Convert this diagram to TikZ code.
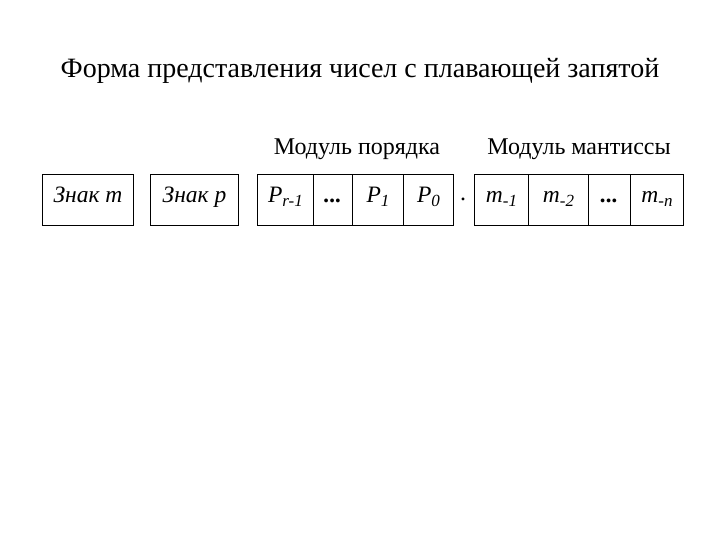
\documentclass[tikz,border=0pt]{standalone}
\usepackage{fontspec}
\setmainfont{Liberation Serif}
\usetikzlibrary{calc}
\newcommand{\lowsub}[1]{\raisebox{-0.35ex}{\fontsize{17}{20}\selectfont #1}}
\begin{document}
\begin{tikzpicture}[x=1pt,y=-1pt,
  cell/.style={draw,line width=1pt,minimum height=51pt,inner sep=0pt,anchor=north west},
  txt/.style={anchor=base,inner sep=0pt,font=\fontsize{23.5}{27}\selectfont\itshape},
  lbl/.style={anchor=base,inner sep=0pt,font=\fontsize{24}{28}\selectfont}]
\useasboundingbox (0,0) rectangle (720,540);
\node[anchor=base,inner sep=0pt] (title) at (360,78) {\fontsize{28}{32}\selectfont Форма представления чисел с плавающей запятой};
\node[lbl] (mp) at (357,155) {Модуль порядка};
\node[lbl] (mm) at (579,155) {Модуль мантиссы};
\node[cell,minimum width=91pt] (zm) at (42,174) {};
\node[cell,minimum width=88pt] (zp) at (150,174) {};
\node[cell,minimum width=56pt] (p1) at (257,174) {};
\node[cell,minimum width=39pt] (p2) at (313,174) {};
\node[cell,minimum width=51pt] (p3) at (352,174) {};
\node[cell,minimum width=50pt] (p4) at (403,174) {};
\node[cell,minimum width=54pt] (m1) at (474,174) {};
\node[cell,minimum width=60pt] (m2) at (528,174) {};
\node[cell,minimum width=42pt] (m3) at (588,174) {};
\node[cell,minimum width=53pt] (m4) at (630,174) {};
\node[txt] (tzm) at ($(zm.north)+(0,29)$) {Знак m};
\node[txt] (tzp) at ($(zp.north)+(0,29)$) {Знак p};
\node[txt] (tp1) at ($(p1.north)+(0,29)$) {P\lowsub{r-1}};
\node[txt] (tp2) at ($(p2.north)+(0,29)$) {\textbf{...}};
\node[txt] (tp3) at ($(p3.north)+(0,29)$) {P\lowsub{1}};
\node[txt] (tp4) at ($(p4.north)+(0,29)$) {P\lowsub{0}};
\node[lbl] (dot) at (463,201) {.};
\node[txt] (tm1) at ($(m1.north)+(0,29)$) {m\lowsub{-1}};
\node[txt] (tm2) at ($(m2.north)+(0,29)$) {m\lowsub{-2}};
\node[txt] (tm3) at ($(m3.north)+(0,29)$) {\textbf{...}};
\node[txt] (tm4) at ($(m4.north)+(0,29)$) {m\lowsub{-n}};
\end{tikzpicture}
\end{document}
